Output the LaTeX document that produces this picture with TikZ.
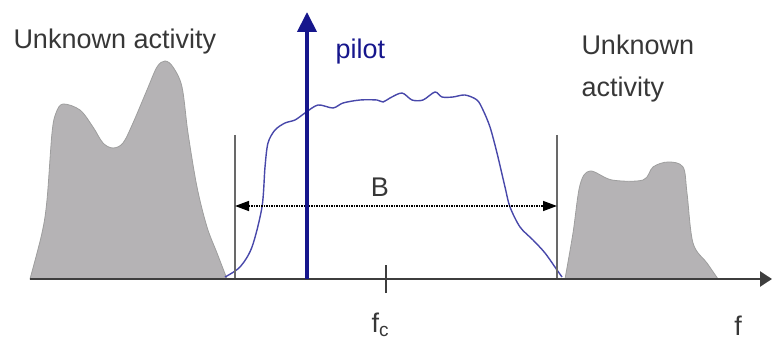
\documentclass[tikz,border=0pt]{standalone}
\usepackage{fontspec}
\setmainfont{Liberation Sans}
\usetikzlibrary{arrows.meta}

\definecolor{pilotblue}{RGB}{22,22,140}
\definecolor{curveblue}{RGB}{72,72,170}
\definecolor{blobgray}{RGB}{181,179,181}
\definecolor{bargray}{RGB}{105,105,105}
\definecolor{axisgray}{RGB}{62,62,62}
\definecolor{txtgray}{RGB}{55,55,55}

\begin{document}
\begin{tikzpicture}[x=1pt,y=-1pt,line width=1pt,
  lbl/.style={inner sep=0pt,text=txtgray,font=\fontsize{27}{42}\selectfont},
  blob/.style={fill=blobgray,draw=black!38,line width=0.8pt},
  bar/.style={draw=bargray,line width=2pt}]
  \useasboundingbox (0,0) rectangle (772,342);
  % actividad desconocida
  \fill[blob] plot[smooth,tension=0.55] coordinates {(30,279) (42,233) (47,200) (52,133)
    (56,113) (63,104) (80,110) (93,127) (103,143) (113,148) (123,143) (133,123) (147,90)
    (157,67) (165,61) (173,67) (182,87) (188,133) (197,187) (207,227) (217,253) (227,279)} -- cycle;
  \fill[blob] plot[smooth,tension=0.55] coordinates {(565,279) (573,233) (580,185) (590,171)
    (612,180) (643,180) (653,167) (668,162) (683,167) (687,193) (693,243) (707,263) (718,279)} -- cycle;
  % espectro de la senal
  \draw[curveblue,line width=1.4pt] plot[smooth,tension=0.5] coordinates {(225,277) (240,267)
    (252,247) (262,207) (265,167) (268,143) (275,130) (285,123) (295,120) (305,113) (318,105)
    (333,108) (343,103) (360,100) (377,100) (383,102) (390,98) (402,93) (412,100) (423,100)
    (435,92) (442,97) (453,97) (465,95) (477,100) (483,110) (490,127) (497,153) (505,187)
    (510,207) (520,227) (533,240) (545,253) (557,270) (562,277)};
  % limites de banda
  \coordinate (barL) at (235,135);
  \coordinate (barR) at (557,135);
  \draw[bar] (barL) -- (barL |- 0,279);
  \draw[bar] (barR) -- (barR |- 0,279);
  % eje de frecuencia
  \coordinate (o) at (30,279);
  \coordinate (fend) at (772,279);
  \draw[axisgray,line width=2.5pt,-{Triangle[length=12pt,width=15pt]}] (o) -- (fend);
  \coordinate (fc) at (386,279);
  \draw[axisgray,line width=2pt] ([yshift=-14pt]fc) -- ([yshift=14pt]fc);
  % ancho de banda
  \draw[densely dotted,line width=1.5pt,{Triangle[length=14pt,width=10pt]}-{Triangle[length=14pt,width=10pt]}]
    (barL |- 0,206) -- (barR |- 0,206);
  \node[lbl,anchor=base] (bw) at (380,197) {B};
  % piloto
  \coordinate (pbase) at (307,279);
  \coordinate (ptop) at (307,12);
  \draw[pilotblue,line width=4pt,-{Triangle[length=20pt,width=19pt]}] (pbase) -- (ptop);
  \node[lbl,text=pilotblue,anchor=base west] (pilot) at (335,59) {pilot};
  % etiquetas
  \node[lbl,anchor=base west] (unkL) at (13,49) {Unknown activity};
  \node[lbl,anchor=north west,align=left] (unkR) at (581,34) {Unknown\\activity};
  \node[lbl,anchor=base west] (fclbl) at (371,332) {f\raisebox{-4pt}{\fontsize{19}{20}\selectfont c}};
  \node[lbl,anchor=base] (flbl) at (738,335) {f};
\end{tikzpicture}
\end{document}
